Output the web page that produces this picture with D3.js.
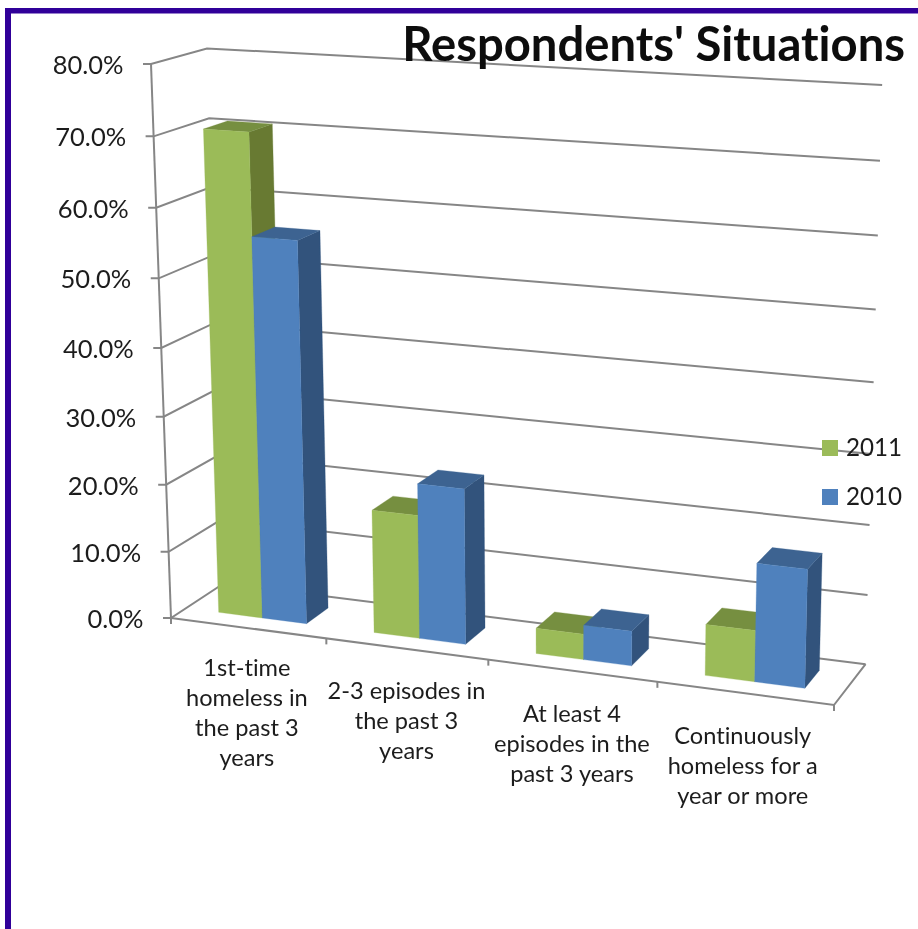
<!DOCTYPE html>
<html><head><meta charset="utf-8">
<script src="https://cdn.jsdelivr.net/npm/d3@7"></script>
<style>html,body{margin:0;padding:0;background:#fff;overflow:hidden}svg{display:block}text{font-variant-ligatures:none}</style>
</head><body><div id="c"></div>
<script>
const title = "Respondents' Situations";
const categories = ["1st-time homeless","2-3 episodes","At least 4 episodes","Continuously homeless"];
const categoryLines = [
  ["1st-time","homeless in","the past 3","years"],
  ["2-3 episodes in","the past 3","years"],
  ["At least 4","episodes in the","past 3 years"],
  ["Continuously","homeless for a","year or more"]
];
const seriesNames = ["2011","2010"];
const values2011 = [70.6,18.1,3.7,7.3];
const values2010 = [55.9,22.7,5.0,16.8];
const yTicks = [0,10,20,30,40,50,60,70,80];

const W=918,H=929;
const svg=d3.select("#c").append("svg").attr("width",W).attr("height",H);
const defs=svg.append("defs");
defs.append("filter").attr("id","soft").append("feGaussianBlur").attr("stdDeviation",0.5);

// unit-cube scales
const uCat=d3.scaleBand().domain(categories).range([0,1]).paddingInner(0.43).paddingOuter(0.215);
const uSer=d3.scaleBand().domain(seriesNames).range([0,uCat.bandwidth()]);
const vY=d3.scaleLinear().domain([0,80]).range([0,1]);
const wD=d3.scaleLinear().domain([0,1]).range([0.28,0.72]);

// perspective projection of the chart box
const a=-0.082,b=-0.049,c=0.0368;
const O=[171,618],U=[834,705],V=[151,64],D=[223.6,583.5];
const vec=i=>({o:O[i],u:U[i]*(1+a)-O[i],v:V[i]*(1+b)-O[i],w:D[i]*(1+c)-O[i]});
const X=vec(0),Y=vec(1);
function P(u,v,w){const k=1+a*u+b*v+c*w;
  return [(X.o+X.u*u+X.v*v+X.w*w)/k,(Y.o+Y.u*u+Y.v*v+Y.w*w)/k];}
const line=d3.line();
const poly=pts=>line(pts)+"Z";

// frame
svg.append("rect").attr("x",5).attr("y",8).attr("width",W-5).attr("height",5.5).attr("fill","#300099");
svg.append("rect").attr("x",5).attr("y",8).attr("width",6).attr("height",H-8).attr("fill","#300099");

// grid
const gridColor="#868686";
const grid=svg.append("g").attr("fill","none").attr("stroke",gridColor).attr("stroke-width",2).attr("filter","url(#soft)");
yTicks.forEach(t=>{
  const v=vY(t);
  const f=P(0,v,0);
  grid.append("path").attr("d",line([[f[0]-8,f[1]],f,P(0,v,1),P(1,v,1)]));
});
grid.append("path").attr("d",line([P(0,1,0),P(0,0,0)]));
grid.append("path").attr("d",line([P(0,0,0),P(1,0,0),P(1,0,1)]));
d3.range(0,5).forEach(i=>{
  const p=P(i/4,0,0);
  grid.append("path").attr("d",line([p,[p[0],p[1]+6]]));
});

// bars
const barColors={
 "2011":{front:"#9BBB59",top:"#768F40",side:"#677A33"},
 "2010":{front:"#4F81BD",top:"#3C6491",side:"#30527C"}
};
const seriesValues={"2011":values2011,"2010":values2010};
const bars=svg.append("g").attr("filter","url(#soft)");
categories.forEach((cat,ci)=>{
  seriesNames.forEach(s=>{
    const u0=uCat(cat)+uSer(s),u1=u0+uSer.bandwidth();
    const v=vY(seriesValues[s][ci]);
    const w0=wD(0),w1=wD(1),col=barColors[s];
    bars.append("path").attr("fill",col.side).attr("stroke",col.side).attr("stroke-width",.3)
      .attr("d",poly([P(u1,0,w0),P(u1,v,w0),P(u1,v,w1),P(u1,0,w1)]));
    bars.append("path").attr("fill",col.top).attr("stroke",col.top).attr("stroke-width",.3)
      .attr("d",poly([P(u0,v,w0),P(u1,v,w0),P(u1,v,w1),P(u0,v,w1)]));
    bars.append("path").attr("fill",col.front).attr("stroke",col.front).attr("stroke-width",.3)
      .attr("d",poly([P(u0,0,w0),P(u1,0,w0),P(u1,v,w0),P(u0,v,w0)]));
  });
});

const font="Lato, Carlito, sans-serif";
const txt=svg.append("g").attr("font-family",font).attr("fill","#1c1c1c").attr("filter","url(#soft)");
// y labels
const fmt=d3.format(".1f");
yTicks.forEach(t=>{
  const p=P(0,vY(t),0);
  txt.append("text").attr("x",p[0]-27.5).attr("y",p[1]+1).attr("dy",".35em")
    .attr("text-anchor","end").attr("font-size",25.5).text(fmt(t)+"%");
});
// category labels
const labelDx=[-1,0,0,-2], labelDy=[40,42,43,42];
categoryLines.forEach((lines,i)=>{
  const cu=(i+0.5)/categories.length;
  const p=P(cu,0,0);
  lines.forEach((l,j)=>{
    txt.append("text").attr("x",p[0]+labelDx[i]).attr("y",p[1]+labelDy[i]+j*30).attr("dy",".35em")
      .attr("text-anchor","middle").attr("font-size",23.6).text(l);
  });
});
// title
svg.append("text").attr("x",905).attr("y",61).attr("text-anchor","end")
  .attr("font-family",font).attr("font-weight",700).attr("font-size",47.2).attr("fill","#0a0a0a").attr("filter","url(#soft)").text(title);
// legend
const legY=d3.scalePoint().domain(seriesNames).range([448,497]);
seriesNames.forEach(s=>{
  svg.append("rect").attr("x",822).attr("y",legY(s)-8).attr("width",16).attr("height",16).attr("fill",barColors[s].front);
  txt.append("text").attr("x",846).attr("y",legY(s)).attr("dy",".35em").attr("font-size",24.2).text(s);
});
</script></body></html>
